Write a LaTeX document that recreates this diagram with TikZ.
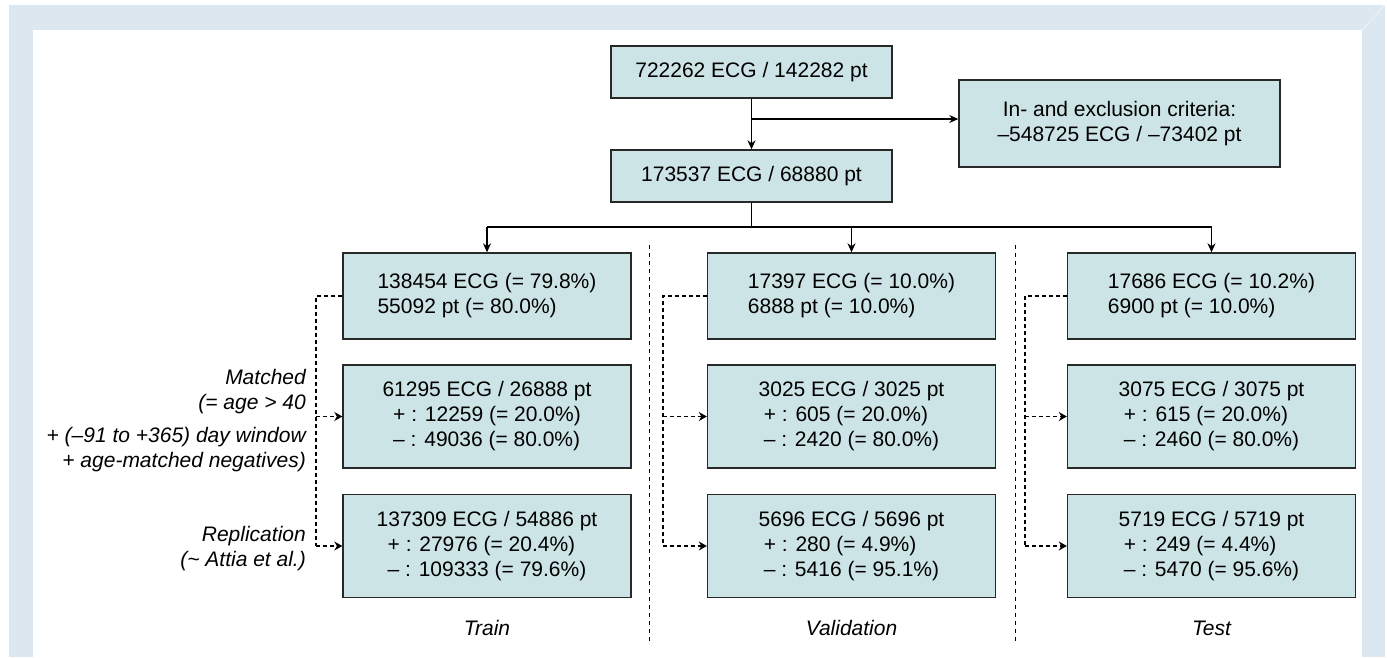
\documentclass[tikz,border=0pt]{standalone}
\usepackage{fontspec}
\setmainfont{Liberation Sans}
\usetikzlibrary{arrows.meta}
\definecolor{band}{RGB}{221,231,240}
\definecolor{boxfill}{RGB}{205,228,230}
\definecolor{boxline}{RGB}{40,40,40}
\begin{document}
\begin{tikzpicture}[x=1pt,y=-1pt,
 box/.style={draw=boxline, line width=1.4pt, fill=boxfill, inner sep=0pt, anchor=center, font=\fontsize{21}{25}\selectfont},
 lbl/.style={font=\fontsize{21}{25}\selectfont\itshape, inner sep=0pt},
 solidarrow/.style={line width=1.2pt, -{Stealth[length=9pt,width=8pt]}},
 plainline/.style={line width=1.2pt},
 dasharrow/.style={line width=1.2pt, dash pattern=on 4pt off 3pt, -{Stealth[length=8pt,width=9pt]}},
 dashline/.style={line width=1.2pt, dash pattern=on 4pt off 3pt},
 divider/.style={line width=1pt, dash pattern=on 4pt off 4pt},
 colbox/.style={box, minimum width=288pt, minimum height=103pt},
 topbox/.style={box, minimum width=288pt, minimum height=86pt},
]
\useasboundingbox (0,0) rectangle (1387,657);
% frame
\fill[band] (9,5) rectangle (1385,657);
\fill[white] (33,30) rectangle (1362,657);
\draw[white!60!band, line width=0.6pt] (1362,30) -- (1385,5);

% top boxes
\node[box, minimum width=281pt, minimum height=52pt] (b1) at (751.5,72) {722262 ECG / 142282 pt};
\node[box, minimum width=281pt, minimum height=52pt] (b2) at (751.5,176) {173537 ECG / 68880 pt};
\node[box, minimum width=321pt, minimum height=87pt] (crit) at (1119.5,123.5)
  {\begin{tabular}{@{}c@{}}In- and exclusion criteria:\\–548725 ECG / –73402 pt\end{tabular}};

\coordinate (j1) at (751.5,119);
\draw[solidarrow] (b1.south) -- (b2.north);
\draw[solidarrow] (j1) -- (j1 -| crit.west);

% column boxes
\node[topbox] (t1) at (487,296) {\begin{tabular}{@{}l@{}}138454 ECG (= 79.8\%)\\55092 pt (= 80.0\%)\end{tabular}};
\node[topbox] (v1) at (851.5,296) {\begin{tabular}{@{}l@{}}17397 ECG (= 10.0\%)\\6888 pt (= 10.0\%)\end{tabular}};
\node[topbox] (s1) at (1211.5,296) {\begin{tabular}{@{}l@{}}17686 ECG (= 10.2\%)\\6900 pt (= 10.0\%)\end{tabular}};

\node[colbox] (t2) at (487,416.5) {\begin{tabular}{@{}c@{}}61295 ECG / 26888 pt\\\begin{tabular}[t]{@{}l@{}}+ : 12259 (= 20.0\%)\\– : 49036 (= 80.0\%)\end{tabular}\end{tabular}};
\node[colbox] (v2) at (851.5,416.5) {\begin{tabular}{@{}c@{}}3025 ECG / 3025 pt\\\begin{tabular}[t]{@{}l@{}}+ : 605 (= 20.0\%)\\– : 2420 (= 80.0\%)\end{tabular}\end{tabular}};
\node[colbox] (s2) at (1211.5,416.5) {\begin{tabular}{@{}c@{}}3075 ECG / 3075 pt\\\begin{tabular}[t]{@{}l@{}}+ : 615 (= 20.0\%)\\– : 2460 (= 80.0\%)\end{tabular}\end{tabular}};

\node[colbox] (t3) at (487,546) {\begin{tabular}{@{}c@{}}137309 ECG / 54886 pt\\\begin{tabular}[t]{@{}l@{}}+ : 27976 (= 20.4\%)\\– : 109333 (= 79.6\%)\end{tabular}\end{tabular}};
\node[colbox] (v3) at (851.5,546) {\begin{tabular}{@{}c@{}}5696 ECG / 5696 pt\\\begin{tabular}[t]{@{}l@{}}+ : 280 (= 4.9\%)\\– : 5416 (= 95.1\%)\end{tabular}\end{tabular}};
\node[colbox] (s3) at (1211.5,546) {\begin{tabular}{@{}c@{}}5719 ECG / 5719 pt\\\begin{tabular}[t]{@{}l@{}}+ : 249 (= 4.4\%)\\– : 5470 (= 95.6\%)\end{tabular}\end{tabular}};

% branch
\coordinate (br) at (751.5,227);
\draw[plainline] (b2.south) -- (br);
\draw[plainline] (br -| t1.north) -- (br -| s1.north);
\draw[solidarrow] (br -| t1.north) -- (t1.north);
\draw[solidarrow] (br -| v1.north) -- (v1.north);
\draw[solidarrow] (br -| s1.north) -- (s1.north);

% dashed side connectors
\coordinate (tx) at (316,0);
\coordinate (vx) at (663,0);
\coordinate (sx) at (1025,0);
\draw[dashline] (t1.west) -- (t1.west -| tx) -- (t3.west -| tx);
\draw[dasharrow] (t2.west -| tx) -- (t2.west);
\draw[dasharrow] (t3.west -| tx) -- (t3.west);
\draw[dashline] (v1.west) -- (v1.west -| vx) -- (v3.west -| vx);
\draw[dasharrow] (v2.west -| vx) -- (v2.west);
\draw[dasharrow] (v3.west -| vx) -- (v3.west);
\draw[dashline] (s1.west) -- (s1.west -| sx) -- (s3.west -| sx);
\draw[dasharrow] (s2.west -| sx) -- (s2.west);
\draw[dasharrow] (s3.west -| sx) -- (s3.west);

% dividers
\coordinate (d1a) at (649,245);
\coordinate (d1b) at (649,642);
\coordinate (d2a) at (1015,245);
\coordinate (d2b) at (1015,642);
\draw[divider] (d1a) -- (d1b);
\draw[divider] (d2a) -- (d2b);

% labels
\node[lbl, anchor=north east, align=right] (lm) at (306,369)
  {Matched\\(= age > 40\\[8pt]+ (–91 to +365) day window\\+ age-matched negatives)};
\node[lbl, anchor=north east, align=right] (lr) at (306,526)
  {Replication\\(\textasciitilde{} Attia et al.)};
\node[lbl] (ct) at (487,628) {Train};
\node[lbl] (cv) at (851.5,628) {Validation};
\node[lbl] (cs) at (1211.5,628) {Test};
\end{tikzpicture}
\end{document}
